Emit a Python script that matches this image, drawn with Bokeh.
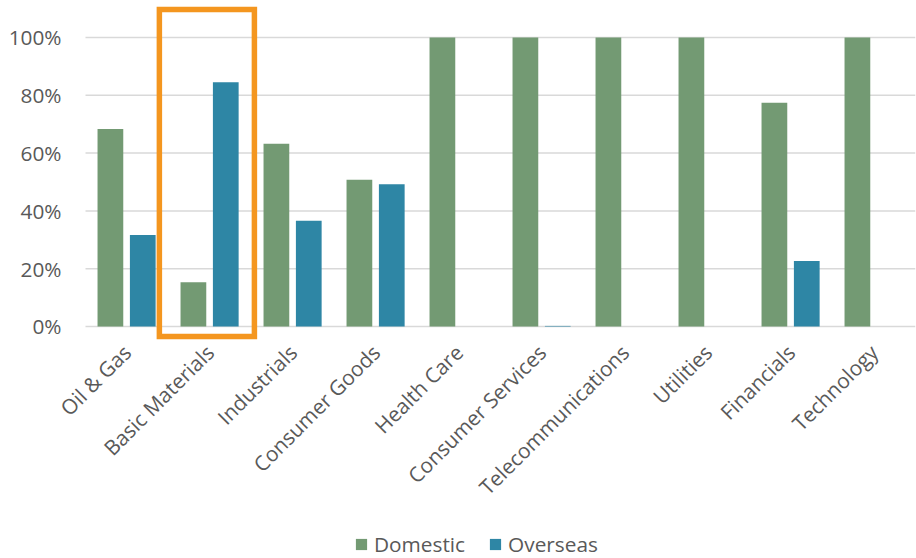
import math

from bokeh.embed import file_html
from bokeh.resources import INLINE
from bokeh.plotting import figure
from bokeh.models import (ColumnDataSource, FactorRange, Range1d, FixedTicker,
                          NumeralTickFormatter, Legend, LegendItem)
from bokeh.transform import dodge

# Share of revenue by sector, domestic vs overseas
sectors = ["Oil & Gas", "Basic Materials", "Industrials", "Consumer Goods",
           "Health Care", "Consumer Services", "Telecommunications",
           "Utilities", "Financials", "Technology"]
domestic = [0.683, 0.153, 0.632, 0.508, 1.0, 1.0, 1.0, 1.0, 0.774, 1.0]
overseas = [0.317, 0.845, 0.366, 0.492, 0.0, 0.002, 0.0, 0.0, 0.227, 0.0]
y_ticks = [0.0, 0.2, 0.4, 0.6, 0.8, 1.0]
highlight = "Basic Materials"

GREEN = "#739A73"
BLUE = "#2E86A5"
ORANGE = "#F4961F"
TEXT = "#595959"
GRID = "#D9D9D9"
FONT = "Open Sans"
FS = "20.8px"

source = ColumnDataSource(dict(sector=sectors, domestic=domestic, overseas=overseas))

# a blank leading factor leaves room for the percentage labels inside the frame
x_factors = [" "] + sectors
first = x_factors.index(sectors[0])      # left edge of the first sector
last = len(x_factors)                    # right edge of the last sector

# the frame runs to the bottom edge; both axes are pinned inside it
p = figure(frame_width=913, frame_height=553,
           x_range=FactorRange(*x_factors, range_padding=0),
           y_range=Range1d(-0.8028, 1.1107),
           output_backend="svg", toolbar_location=None,
           min_border_left=2, min_border_right=1,
           min_border_top=5, min_border_bottom=0)

p.outline_line_color = None
p.background_fill_color = "white"
p.border_fill_color = "white"

# horizontal gridlines across the sector area only
p.xgrid.grid_line_color = None
p.ygrid.grid_line_color = None
p.segment(x0=[first] * len(y_ticks), x1=[last] * len(y_ticks),
          y0=y_ticks, y1=y_ticks, line_color=GRID, line_width=1.5)

r_dom = p.vbar(x=dodge("sector", -0.2, range=p.x_range), top="domestic", width=0.31,
               source=source, fill_color=GREEN, line_color=None)
r_ovs = p.vbar(x=dodge("sector", 0.19, range=p.x_range), top="overseas", width=0.31,
               source=source, fill_color=BLUE, line_color=None)

# highlight frame around one sector
i = x_factors.index(highlight)
p.quad(left=[i - 0.11], right=[i + 1.035], bottom=[-0.035], top=[1.097],
       fill_color=None, line_color=ORANGE, line_width=5.5, line_join="miter")

# axes
p.yaxis.ticker = FixedTicker(ticks=y_ticks)
p.yaxis.formatter = NumeralTickFormatter(format="0%")

for ax in (p.xaxis[0], p.yaxis[0]):
    ax.axis_line_color = None
    ax.major_tick_line_color = None
    ax.minor_tick_line_color = None
    ax.major_tick_out = 0
    ax.major_tick_in = 0
    ax.major_label_text_font = FONT
    ax.major_label_text_font_size = FS
    ax.major_label_text_color = TEXT

p.yaxis.fixed_location = first
p.yaxis.major_label_standoff = 24
p.xaxis.fixed_location = -0.0484
p.xaxis.major_label_orientation = math.pi / 4
p.xaxis.major_label_standoff = 8

legend = Legend(items=[LegendItem(label="Domestic", renderers=[r_dom]),
                       LegendItem(label="Overseas", renderers=[r_ovs])],
                orientation="horizontal", location=(352, 0),
                glyph_width=14, glyph_height=14, label_standoff=6, spacing=23,
                label_text_font=FONT, label_text_font_size=FS,
                label_text_color=TEXT, border_line_color=None,
                background_fill_alpha=0, padding=0, margin=0)
p.add_layout(legend, "center")

open("out.html", "w").write(file_html(p, INLINE))
